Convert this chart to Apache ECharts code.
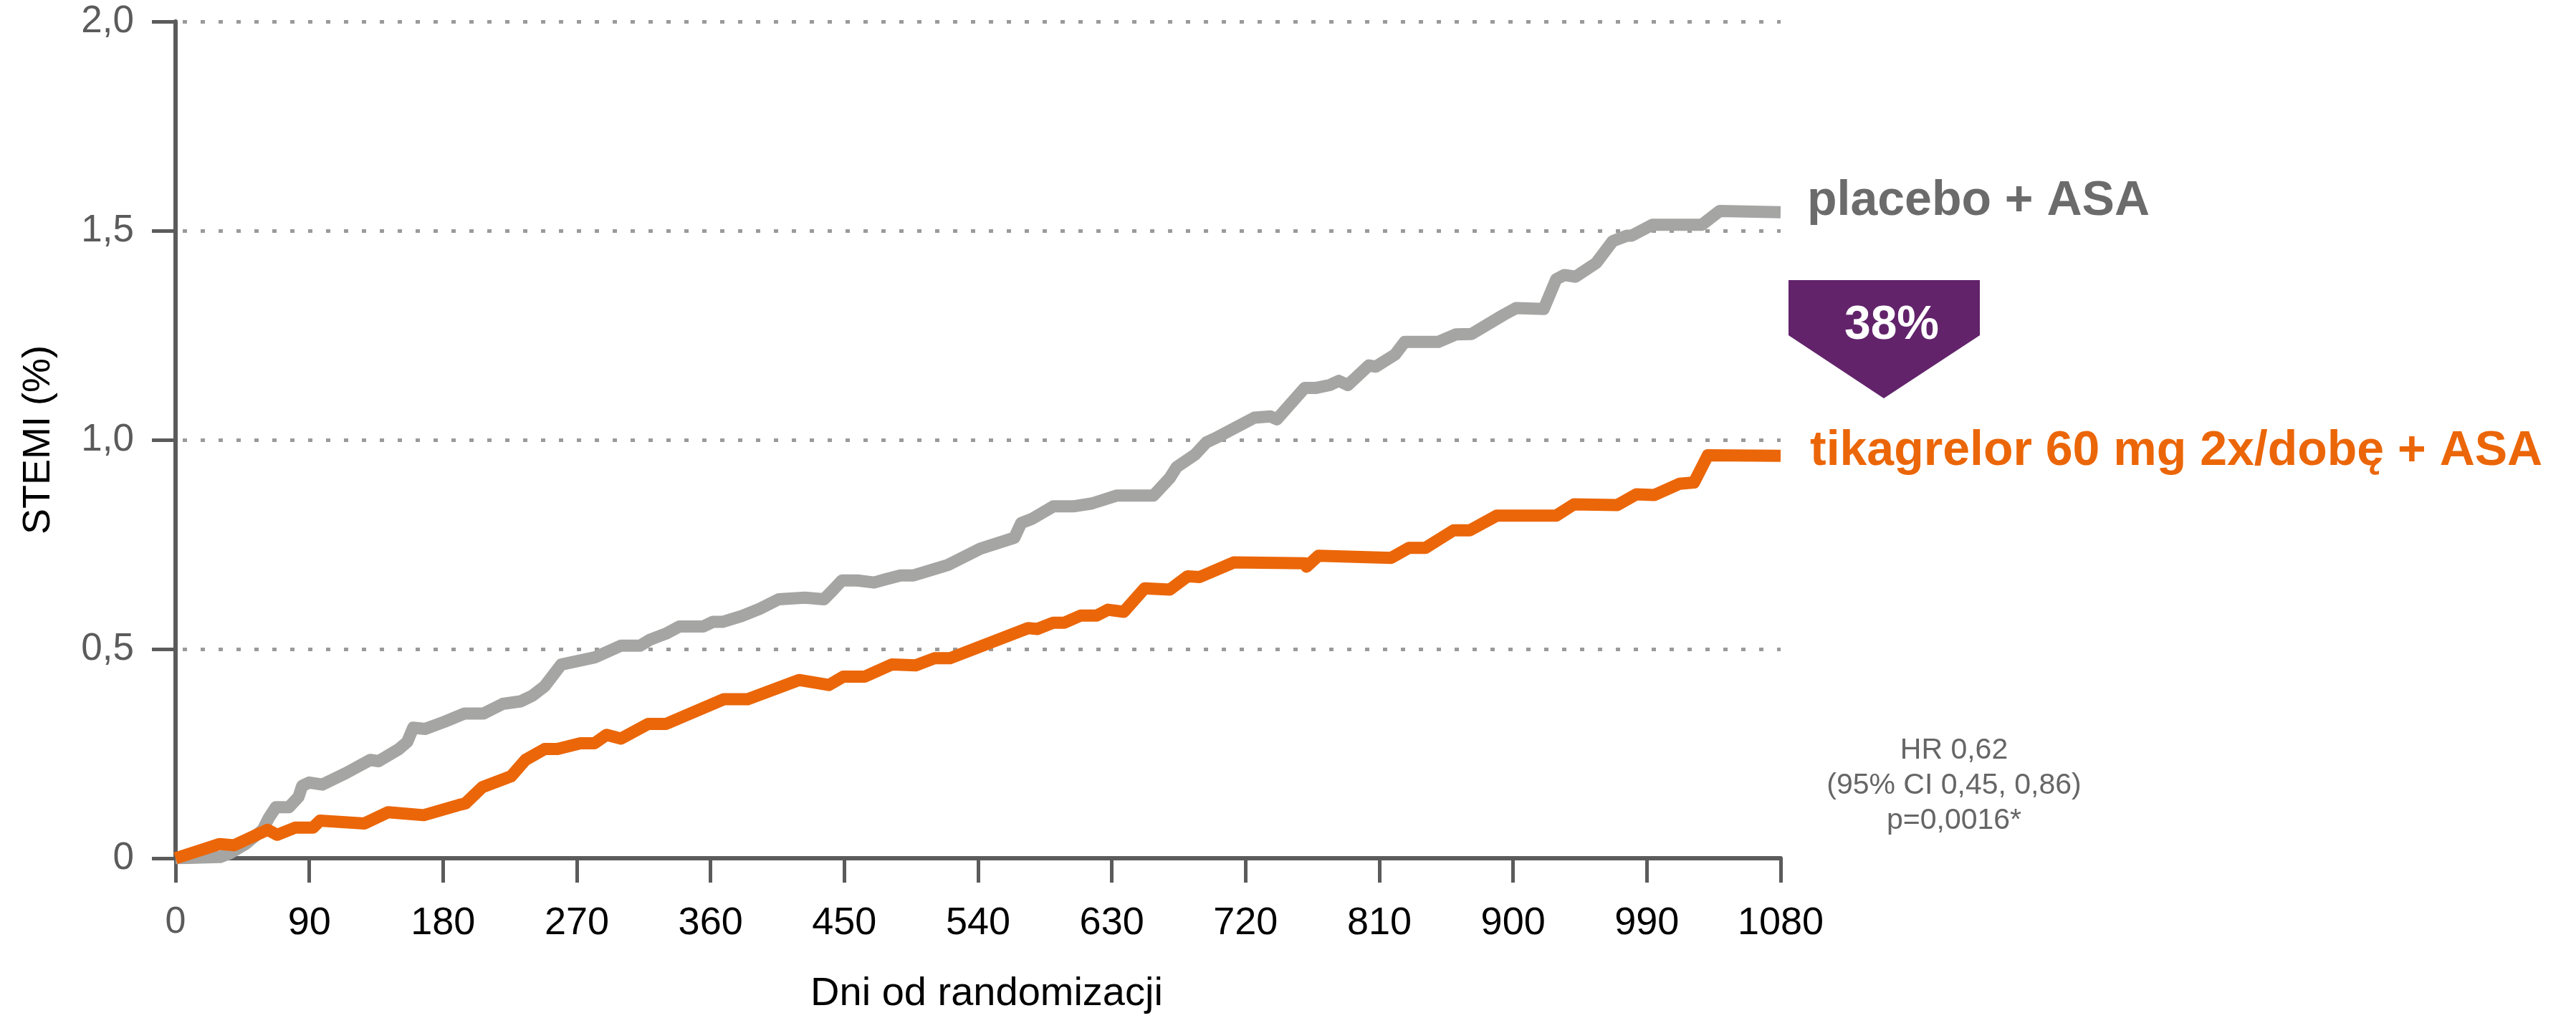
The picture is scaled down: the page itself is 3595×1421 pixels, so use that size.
<!DOCTYPE html>
<html>
<head>
    <meta charset="UTF-8">
    <title>STEMI</title>
    <style type="text/css">
        html, body {
            margin: 0;
            padding: 0;
            background: #ffffff;
        }
        #chart {
            width: 3595px;
            height: 1421px;
        }
    </style>
    <script type="text/javascript" src="https://cdn.jsdelivr.net/npm/echarts@6/dist/echarts.min.js"></script>
</head>
<body>
<div id="chart"></div>
<script>
    // [dni, %]
    const placebo = [
        [0, 0], [30, 0.003], [36, 0.011], [47, 0.034], [58.7, 0.068], [62.7, 0.096], [67.5, 0.122],
        [76.3, 0.122], [82.8, 0.147], [85.2, 0.173], [90, 0.181], [98.8, 0.176], [114.9, 0.204],
        [131, 0.235], [136.6, 0.232], [150.3, 0.261], [155.9, 0.278], [159.9, 0.312], [167.9, 0.309],
        [180.8, 0.326], [194.5, 0.346], [207.3, 0.346], [220.2, 0.369], [232.2, 0.375], [240.3, 0.389],
        [248.3, 0.411], [259.5, 0.463], [282, 0.480], [299.7, 0.508], [312.6, 0.508], [319, 0.522],
        [330, 0.537], [339, 0.554], [355, 0.554], [361.6, 0.565], [368, 0.565], [381, 0.579],
        [393, 0.596], [405.8, 0.619], [423.5, 0.623], [436.3, 0.619], [441, 0.636], [448.4, 0.664],
        [458.8, 0.664], [470, 0.659], [478, 0.667], [487.8, 0.676], [496.6, 0.676], [519.7, 0.701],
        [541.5, 0.740], [564.4, 0.766], [569, 0.801], [576.7, 0.812], [590.6, 0.841], [604, 0.841],
        [616.6, 0.848], [633.5, 0.867], [658, 0.867], [669, 0.909], [673.6, 0.935], [686, 0.965],
        [693.6, 0.994], [699.6, 1.004], [725.9, 1.053], [736.7, 1.056], [741, 1.049], [759.7, 1.124],
        [767, 1.124], [776.6, 1.131], [782.7, 1.141], [788.8, 1.131], [803, 1.178], [807.6, 1.175],
        [820.6, 1.204], [827, 1.234], [849.5, 1.234], [861.4, 1.252], [872, 1.253], [893.7, 1.299],
        [902, 1.315], [920.6, 1.313], [929, 1.384], [934.5, 1.394], [942, 1.390], [956, 1.423],
        [967, 1.475], [976.6, 1.488], [979.7, 1.488], [993.7, 1.514], [1027, 1.514], [1039, 1.547],
        [1080, 1.544]
    ];
    const tikagrelor = [
        [0, 0], [29.7, 0.034], [39.4, 0.031], [61.9, 0.068], [68.3, 0.056], [80.4, 0.073],
        [92.4, 0.073], [97.2, 0.090], [127, 0.083], [143, 0.110], [167, 0.103], [190.4, 0.127],
        [195, 0.131], [206.5, 0.170], [225.8, 0.196], [235.4, 0.235], [248.3, 0.261], [257, 0.261],
        [272.4, 0.275], [282, 0.275], [290, 0.295], [299.7, 0.286], [318, 0.321], [330, 0.321],
        [368.8, 0.380], [385, 0.380], [419.5, 0.426], [439.6, 0.414], [449.2, 0.434], [463.7, 0.434],
        [482, 0.463], [498, 0.461], [510.6, 0.478], [521, 0.478], [573.7, 0.550], [579.8, 0.548],
        [590.6, 0.563], [598, 0.563], [609, 0.580], [619.8, 0.580], [627.4, 0.594], [638, 0.589],
        [652, 0.645], [669, 0.642], [681, 0.674], [689, 0.672], [712, 0.707], [759.7, 0.705],
        [761, 0.697], [769, 0.723], [818, 0.718], [830, 0.742], [841, 0.742], [860, 0.784],
        [871, 0.784], [889, 0.819], [929, 0.819], [941, 0.846], [970, 0.844], [983, 0.870],
        [995, 0.868], [1012, 0.895], [1021.7, 0.898], [1031, 0.963], [1080, 0.962]
    ];
    const seriesNames = ['placebo + ASA', 'tikagrelor 60 mg 2x/dobę + ASA'];
    const yTickLabels = ['0', '0,5', '1,0', '1,5', '2,0'];
    const reductionText = '38%';
    const statsText = ['HR 0,62', '(95% CI 0,45, 0,86)', 'p=0,0016*'];

    const FONT = '"Liberation Sans", Arial, sans-serif';
    const AXIS = '#5b5b5b';
    const GRAY = '#a5a5a4';
    const ORANGE = '#eb6608';

    let myChart = echarts.init(document.getElementById('chart'));

    let option = {
        animation: false,
        backgroundColor: '#ffffff',
        textStyle: {fontFamily: FONT},
        grid: {left: 245, right: 1110, top: 30, bottom: 218, containLabel: false},
        xAxis: {
            type: 'value',
            min: 0,
            max: 1080,
            interval: 90,
            name: 'Dni od randomizacji',
            nameLocation: 'middle',
            nameGap: 162,
            nameTextStyle: {fontSize: 56, color: '#000', fontFamily: FONT, padding: [0, 0, 0, 24]},
            axisLine: {lineStyle: {color: AXIS, width: 6}},
            axisTick: {length: 34, lineStyle: {color: AXIS, width: 5}},
            axisLabel: {
                margin: 64,
                fontSize: 54,
                color: '#000',
                fontFamily: FONT,
                formatter: function (v) {
                    return v === 0 ? '{z|0}' : String(v);
                },
                rich: {z: {fontSize: 52, color: AXIS, fontFamily: FONT}}
            },
            splitLine: {show: false}
        },
        yAxis: {
            type: 'value',
            min: 0,
            max: 2,
            interval: 0.5,
            name: 'STEMI (%)',
            nameLocation: 'middle',
            nameGap: 164,
            nameTextStyle: {fontSize: 54, color: '#000', fontFamily: FONT},
            axisLine: {show: true, lineStyle: {color: AXIS, width: 6}},
            axisTick: {show: true, length: 33, lineStyle: {color: AXIS, width: 5}},
            axisLabel: {
                margin: 58,
                fontSize: 53,
                color: AXIS,
                fontFamily: FONT,
                padding: [12, 0, 0, 0],
                formatter: function (v) {
                    return yTickLabels[Math.round(v / 0.5)];
                }
            },
            splitLine: {
                show: true,
                lineStyle: {color: '#9a9a9a', width: 5, type: [6, 19], dashOffset: 15}
            }
        },
        series: [
            {
                name: seriesNames[0],
                type: 'line',
                data: placebo,
                symbol: 'none',
                lineStyle: {color: GRAY, width: 17, cap: 'butt', join: 'round'},
                itemStyle: {color: GRAY},
                endLabel: {
                    show: true,
                    formatter: '{a}',
                    distance: 37,
                    offset: [0, -15],
                    fontSize: 68,
                    fontWeight: 'bold',
                    fontFamily: FONT,
                    color: '#6b6b6b'
                },
                z: 2
            },
            {
                name: seriesNames[1],
                type: 'line',
                data: tikagrelor,
                symbol: 'none',
                lineStyle: {color: ORANGE, width: 17, cap: 'butt', join: 'round'},
                itemStyle: {color: ORANGE},
                endLabel: {
                    show: true,
                    formatter: '{a}',
                    distance: 41,
                    offset: [0, -6],
                    fontSize: 68,
                    fontWeight: 'bold',
                    fontFamily: FONT,
                    color: ORANGE
                },
                z: 3
            }
        ],
        graphic: [
            {
                type: 'polygon',
                shape: {points: [[2496, 391], [2763, 391], [2763, 468], [2629, 556], [2496, 468]]},
                style: {fill: '#62236b'},
                z: 10
            },
            {
                type: 'text',
                x: 2640,
                y: 455,
                style: {
                    text: reductionText,
                    fill: '#ffffff',
                    font: 'bold 66px ' + FONT,
                    textAlign: 'center',
                    textVerticalAlign: 'middle'
                },
                z: 11
            },
            {
                type: 'text',
                x: 2727,
                y: 1097,
                style: {
                    text: statsText.join('\n'),
                    fill: '#666666',
                    font: '41px ' + FONT,
                    lineHeight: 49,
                    textAlign: 'center',
                    textVerticalAlign: 'middle'
                },
                z: 10
            }
        ]
    };
    myChart.setOption(option);
</script>
</body>
</html>
